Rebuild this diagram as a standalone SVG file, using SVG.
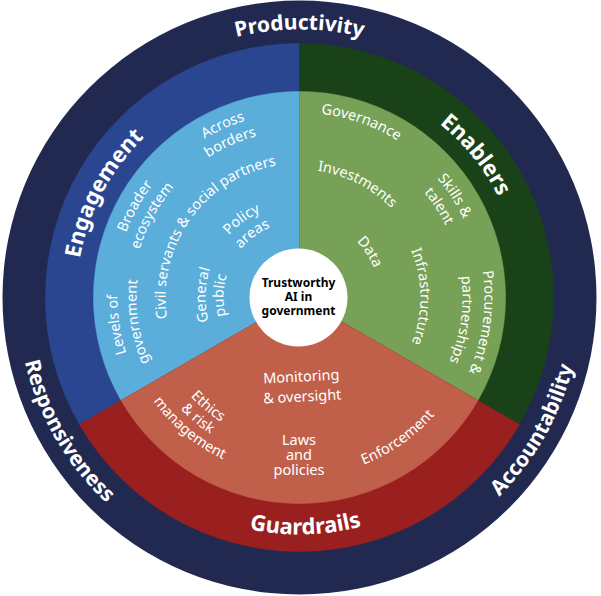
<svg xmlns="http://www.w3.org/2000/svg" width="601" height="596" viewBox="0 0 601 596">
<style>
text { font-family: "Noto Sans", "Open Sans", "Liberation Sans", sans-serif; fill: #ffffff; text-anchor: middle; }
.lbl { font-size: 14.5px; }
.ring { font-size: 21px; font-weight: 700; }
.pillar { font-size: 22px; font-weight: 700; }
.core { font-size: 12px; font-weight: 700; fill: #000000; }
.navy { fill: #222950; }
.dblue { fill: #2A4691; stroke: #2A4691; stroke-width: 0.6; }
.lblue { fill: #5BAEDA; stroke: #5BAEDA; stroke-width: 0.6; }
.dgreen { fill: #1A4218; stroke: #1A4218; stroke-width: 0.6; }
.lgreen { fill: #77A156; stroke: #77A156; stroke-width: 0.6; }
.dred { fill: #9A1F1F; stroke: #9A1F1F; stroke-width: 0.6; }
.lred { fill: #C1604A; stroke: #C1604A; stroke-width: 0.6; }
</style>
<defs>
<path id="cw268" d="M252.96,561.43 A268,268 0 1 1 346.04,561.43"/>
<path id="cw223" d="M260.78,517.11 A223,223 0 1 1 338.22,517.11"/>
<path id="cw185" d="M267.38,479.69 A185,185 0 1 1 331.62,479.69"/>
<path id="cw182" d="M267.90,476.74 A182,182 0 1 1 331.10,476.74"/>
<path id="cw167" d="M270.50,461.96 A167,167 0 1 1 328.50,461.96"/>
<path id="cw163" d="M271.20,458.02 A163,163 0 1 1 327.80,458.02"/>
<path id="cw134" d="M276.23,429.46 A134,134 0 1 1 322.77,429.46"/>
<path id="cw128" d="M277.27,423.56 A128,128 0 1 1 321.73,423.56"/>
<path id="cw121" d="M278.49,416.66 A121,121 0 1 1 320.51,416.66"/>
<path id="cw94" d="M283.18,390.07 A94,94 0 1 1 315.82,390.07"/>
<path id="cw80" d="M285.61,376.28 A80,80 0 1 1 313.39,376.28"/>
<path id="cw76" d="M286.30,372.35 A76,76 0 1 1 312.70,372.35"/>
<path id="ccw282" d="M250.53,19.78 A282,282 0 1 0 348.47,19.78"/>
<path id="ccw237" d="M258.35,64.10 A237,237 0 1 0 340.65,64.10"/>
<path id="ccw179" d="M268.42,121.22 A179,179 0 1 0 330.58,121.22"/>
<path id="ccw163" d="M271.20,136.98 A163,163 0 1 0 327.80,136.98"/>
<path id="ccw147" d="M273.97,152.73 A147,147 0 1 0 325.03,152.73"/>
</defs>
<rect width="601" height="596" fill="#ffffff"/>
<g id="outer-ring">
<circle class="navy" cx="299.5" cy="297.5" r="297"/>
</g>
<g id="engagement">
<path class="dblue" d="M299.5,297.5 L79.53,424.5 A254,254 0 0 1 299.5,43.5 Z"/>
<path class="lblue" d="M299.5,297.5 L121.10,400.5 A206,206 0 0 1 299.5,91.5 Z"/>
</g>
<g id="enablers">
<path class="dgreen" d="M299.5,297.5 L299.5,43.5 A254,254 0 0 1 519.47,424.5 Z"/>
<path class="lgreen" d="M299.5,297.5 L299.5,91.5 A206,206 0 0 1 477.90,400.5 Z"/>
</g>
<g id="guardrails">
<path class="dred" d="M299.5,297.5 L519.47,424.5 A254,254 0 0 1 79.53,424.5 Z"/>
<path class="lred" d="M299.5,297.5 L477.90,400.5 A206,206 0 0 1 121.10,400.5 Z"/>
</g>
<g id="outer-labels">
<text class="ring"><textPath href="#cw268" startOffset="50%">Productivity</textPath></text>
<text class="ring" transform="rotate(60 299.5 297.5)"><textPath href="#ccw282" startOffset="50%">Responsiveness</textPath></text>
<text class="ring" transform="rotate(-60.5 299.5 297.5)"><textPath href="#ccw282" startOffset="50%">Accountability</textPath></text>
</g>
<g id="engagement-labels">
<text class="pillar" transform="rotate(-62 299.5 297.5)"><textPath href="#cw223" startOffset="50%">Engagement</textPath></text>
<text class="lbl" transform="rotate(-24 299.5 297.5)"><textPath href="#cw185" startOffset="50%">Across</textPath></text>
<text class="lbl" transform="rotate(-24 299.5 297.5)"><textPath href="#cw167" startOffset="50%">borders</textPath></text>
<text class="lbl" transform="rotate(-61 299.5 297.5)"><textPath href="#cw185" startOffset="50%">Broader</textPath></text>
<text class="lbl" transform="rotate(-61 299.5 297.5)"><textPath href="#cw167" startOffset="50%">ecosystem</textPath></text>
<text class="lbl" transform="rotate(-54.5 299.5 297.5)"><textPath href="#cw134" startOffset="50%">Civil servants &amp; social partners</textPath></text>
<text class="lbl" transform="rotate(-36.5 299.5 297.5)"><textPath href="#cw94" startOffset="50%">Policy</textPath></text>
<text class="lbl" transform="rotate(-36.5 299.5 297.5)"><textPath href="#cw76" startOffset="50%">areas</textPath></text>
<text class="lbl" transform="rotate(-88.5 299.5 297.5)"><textPath href="#cw94" startOffset="50%">General</textPath></text>
<text class="lbl" transform="rotate(-88.5 299.5 297.5)"><textPath href="#cw76" startOffset="50%">public</textPath></text>
<text class="lbl" transform="rotate(-98.5 299.5 297.5)"><textPath href="#cw182" startOffset="50%">Levels of</textPath></text>
<text class="lbl" transform="rotate(-98.5 299.5 297.5)"><textPath href="#cw163" startOffset="50%">government</textPath></text>
</g>
<g id="enablers-labels">
<text class="pillar" transform="rotate(51 299.5 297.5)"><textPath href="#cw223" startOffset="50%">Enablers</textPath></text>
<text class="lbl" transform="rotate(19.4 299.5 297.5)"><textPath href="#cw185" startOffset="50%">Governance</textPath></text>
<text class="lbl" transform="rotate(27 299.5 297.5)"><textPath href="#cw128" startOffset="50%">Investments</textPath></text>
<text class="lbl" transform="rotate(56.8 299.5 297.5)"><textPath href="#cw182" startOffset="50%">Skills &amp;</textPath></text>
<text class="lbl" transform="rotate(56.8 299.5 297.5)"><textPath href="#cw163" startOffset="50%">talent</textPath></text>
<text class="lbl" transform="rotate(57 299.5 297.5)"><textPath href="#cw80" startOffset="50%">Data</textPath></text>
<text class="lbl" transform="rotate(89.5 299.5 297.5)"><textPath href="#cw121" startOffset="50%">Infrastructure</textPath></text>
<text class="lbl" transform="rotate(97.8 299.5 297.5)"><textPath href="#cw185" startOffset="50%">Procurement &amp;</textPath></text>
<text class="lbl" transform="rotate(97.8 299.5 297.5)"><textPath href="#cw163" startOffset="50%">partnerships</textPath></text>
</g>
<g id="guardrails-labels">
<text class="pillar" transform="rotate(-1.5 299.5 297.5)"><textPath href="#ccw237" startOffset="50%">Guardrails</textPath></text>
<text class="lbl" x="301.5" y="381.5" transform="rotate(-3 301.5 381.5)">Monitoring</text>
<text class="lbl" x="301.5" y="401.5" transform="rotate(-3 301.5 381.5)">&amp; oversight</text>
<text class="lbl" x="299" y="445">Laws</text>
<text class="lbl" x="299" y="460">and</text>
<text class="lbl" x="299" y="475">policies</text>
<text class="lbl" transform="rotate(40 299.5 297.5)"><textPath href="#ccw147" startOffset="50%">Ethics</textPath></text>
<text class="lbl" transform="rotate(40 299.5 297.5)"><textPath href="#ccw163" startOffset="50%">&amp; risk</textPath></text>
<text class="lbl" transform="rotate(40 299.5 297.5)"><textPath href="#ccw179" startOffset="50%">management</textPath></text>
<text class="lbl" transform="rotate(-35 299.5 297.5)"><textPath href="#ccw179" startOffset="50%">Enforcement</textPath></text>
</g>
<g id="center">
<circle cx="298.5" cy="297.5" r="49" fill="#ffffff"/>
<text class="core" x="298.5" y="287">Trustworthy</text>
<text class="core" x="298.5" y="301">AI in</text>
<text class="core" x="298.5" y="315">government</text>
</g>
<g id="connectors"/>
</svg>
